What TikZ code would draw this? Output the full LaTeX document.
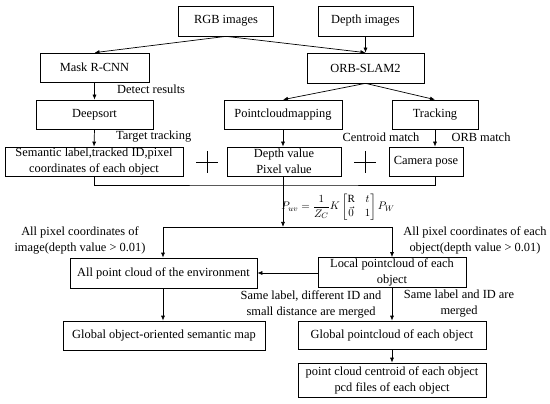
\documentclass[tikz,border=0pt]{standalone}
\usepackage{amsmath}
\usepackage{fontspec}
\setmainfont{Liberation Serif}
\usepackage{tikz}
\usetikzlibrary{arrows.meta,calc}

\begin{document}
\begin{tikzpicture}[
  x=1pt,y=-1pt,
  font=\fontsize{12.4}{16}\selectfont,
  box/.style={rectangle,draw,line width=0.7pt,inner sep=0pt,align=center},
  lbl/.style={inner sep=0pt,align=center},
  link/.style={line width=0.7pt,-{Latex[length=5pt,width=4pt]}},
  wire/.style={line width=0.7pt},
]
\useasboundingbox (0,0) rectangle (550,404);

% Inputs
\node[box,minimum width=95pt,minimum height=30pt] (rgb) at (226,21) {RGB images};
\node[box,minimum width=95pt,minimum height=30pt] (depth) at (365.5,21) {Depth images};

% Detection and SLAM
\node[box,minimum width=109pt,minimum height=29pt] (mask) at (94.5,67.5) {Mask R-CNN};
\node[box,minimum width=117pt,minimum height=30pt] (orb) at (365.5,68) {ORB-SLAM2};
\node[box,minimum width=117pt,minimum height=29pt] (deepsort) at (94.5,114.5) {Deepsort};
\node[box,minimum width=118pt,minimum height=29pt] (pcm) at (283,114.5) {Pointcloudmapping};
\node[box,minimum width=86pt,minimum height=29pt] (track) at (435,114.5) {Tracking};

% Per-frame results
\node[box,minimum width=178pt,minimum height=29pt] (sem) at (94,161.5) {Semantic label,tracked ID,pixel\\coordinates of each object};
\node[box,minimum width=114pt,minimum height=29pt] (dv) at (284,161.5) {Depth value\\Pixel value};
\node[box,minimum width=74pt,minimum height=29pt] (cam) at (426,161.5) {Camera pose};

% Plus signs
\draw[wire] (196,162) -- (218,162) (207,151) -- (207,173);
\draw[wire] (354,162) -- (376,162) (365,151) -- (365,173);

% Point clouds
\node[box,minimum width=187pt,minimum height=30pt] (allpc) at (163.5,273) {All point cloud of the environment};
\node[box,minimum width=148pt,minimum height=30pt] (local) at (392,272.5) {Local pointcloud of each\\object};
\node[box,minimum width=202pt,minimum height=29pt] (gmap) at (164,335.5) {Global object-oriented semantic map};
\node[box,minimum width=188pt,minimum height=28pt] (gpc) at (392,335) {Global pointcloud of each object};
\node[box,minimum width=188pt,minimum height=34pt] (cent) at (392,380) {point cloud centroid of each object\\pcd files of each object};

% Junctions
\coordinate (join) at (283,185);
\coordinate (split) at (283,227);
\coordinate (splitl) at (163,227);
\coordinate (splitr) at (392,227);

% Arrows
\draw[link] (rgb.south) -- (mask.north);
\draw[link] (rgb.south) -- (orb.north);
\draw[link] (depth.south) -- (orb.north);
\draw[link] (orb.south) -- (pcm.north);
\draw[link] (orb.south) -- (track.north);
\draw[link] (mask.south) -- (deepsort.north);
\draw[link] (deepsort.south) -- (sem.north);
\draw[link] (pcm.south) -- (pcm.south |- dv.north);
\draw[link] (track.south) -- (track.south |- cam.north);
\draw[wire] (sem.south -| deepsort.south) |- (join) -| (track.south |- cam.south);
\draw[link] (dv.south -| join) -- (split);
\draw[wire] (splitl) -- (splitr);
\draw[link] (splitl) -- (splitl |- allpc.north);
\draw[link] (splitr) -- (splitr |- local.north);
\draw[link] (local.west |- allpc.east) -- (allpc.east);
\draw[link] (splitl |- allpc.south) -- (splitl |- gmap.north);
\draw[link] (splitr |- local.south) -- (splitr |- gpc.north);
\draw[link] (splitr |- gpc.south) -- (splitr |- cent.north);

% Labels
\node[lbl,anchor=west] (ldet) at (117,89) {Detect results};
\node[lbl,anchor=west] (ltrk) at (116,137) {Target tracking};
\node[lbl] (lcen) at (381,137) {Centroid match};
\node[lbl] (lorb) at (481,137) {ORB match};
\node[lbl] (lform) at (338,207) {\fontsize{11}{13}\selectfont$\displaystyle P_{uv}=\frac{1}{Z_C}K\begin{bmatrix}\mathrm{R} & t\\ \vec{0} & 1\end{bmatrix}P_W$};
\node[lbl] (lpix) at (80,240) {All pixel coordinates of\\image(depth value > 0.01)};
\node[lbl] (lobj) at (475,240) {All pixel coordinates of each\\object(depth value > 0.01)};
\node[lbl] (ldiff) at (311,304) {Same label, different ID and\\small distance are merged};
\node[lbl] (lsame) at (459,304) {Same label and ID are\\merged};

\end{tikzpicture}
\end{document}
